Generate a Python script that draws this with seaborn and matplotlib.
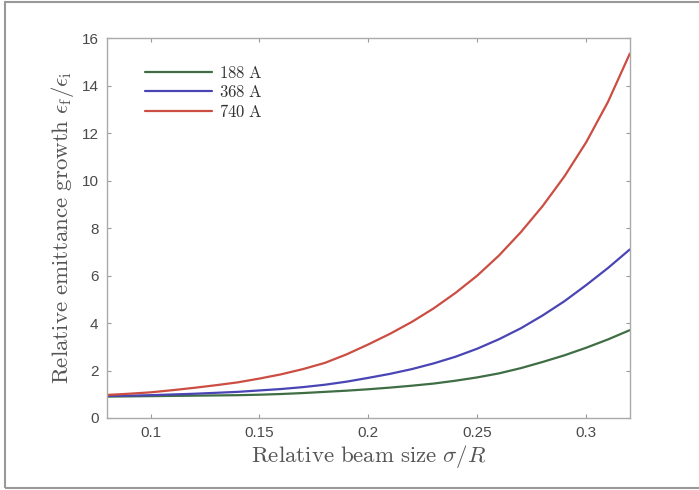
import numpy as np
import pandas as pd
import matplotlib
matplotlib.use('Agg')
import matplotlib.pyplot as plt
import seaborn as sns
from matplotlib.patches import Rectangle

sns.set_theme(style='white')
plt.rcParams['font.family'] = ['Liberation Sans', 'DejaVu Sans']
plt.rcParams['mathtext.fontset'] = 'cm'

# data
beam_size = [0.08, 0.09, 0.10, 0.11, 0.12, 0.13, 0.14, 0.15, 0.16, 0.17, 0.18, 0.19, 0.20,
             0.21, 0.22, 0.23, 0.24, 0.25, 0.26, 0.27, 0.28, 0.29, 0.30, 0.31, 0.32]
growth_188 = [0.90, 0.91, 0.92, 0.93, 0.94, 0.95, 0.96, 0.98, 1.01, 1.05, 1.10, 1.15, 1.21,
              1.28, 1.36, 1.45, 1.57, 1.71, 1.88, 2.10, 2.36, 2.64, 2.96, 3.31, 3.70]
growth_368 = [0.93, 0.94, 0.96, 0.99, 1.02, 1.06, 1.10, 1.16, 1.22, 1.30, 1.40, 1.53, 1.69,
              1.86, 2.06, 2.30, 2.58, 2.92, 3.32, 3.78, 4.32, 4.92, 5.60, 6.32, 7.10]
growth_740 = [0.97, 1.02, 1.08, 1.17, 1.27, 1.38, 1.50, 1.66, 1.84, 2.06, 2.32, 2.68, 3.10,
              3.55, 4.05, 4.62, 5.27, 6.00, 6.85, 7.83, 8.93, 10.18, 11.62, 13.32, 15.35]
currents = ['188 A', '368 A', '740 A']
colors = ['#3f6e45', '#4a45b5', '#cc4d42']

rows = []
for cur, vals in zip(currents, [growth_188, growth_368, growth_740]):
    for x, y in zip(beam_size, vals):
        rows.append({'sigma': x, 'growth': y, 'current': r'$\mathrm{' + cur.replace(' ', r'\ ') + '}$'})
df = pd.DataFrame(rows)

fig = plt.figure(figsize=(6.99, 4.90), dpi=100)
ax = fig.add_axes([0.153, 0.147, 0.748, 0.775])

sns.lineplot(data=df, x='sigma', y='growth', hue='current',
             palette=colors, linewidth=1.6, ax=ax)

ax.set_xlim(0.08, 0.32)
ax.set_ylim(0, 16)
ax.set_xticks([0.1, 0.15, 0.2, 0.25, 0.3])
ax.set_xticklabels(['0.1', '0.15', '0.2', '0.25', '0.3'])
ax.set_yticks(range(0, 17, 2))

ax.tick_params(direction='in', length=3, width=0.8, color='#999999',
               labelcolor='#4a4a4a', labelsize=11, top=True, right=True,
               bottom=True, left=True, pad=6)
for s in ax.spines.values():
    s.set_color('#aaaaaa')
    s.set_linewidth(1.0)

ax.set_xlabel(r'$\mathrm{Relative\ beam\ size}\ \sigma/R$', fontsize=16.5, color='#555555', labelpad=2)
ax.set_ylabel(r'$\mathrm{Relative\ emittance\ growth}\ \epsilon_{\rm f}/\epsilon_{\rm i}$', fontsize=16.5,
              color='#555555', labelpad=4)

leg = ax.legend(loc='upper left', bbox_to_anchor=(0.045, 0.97), frameon=False,
                fontsize=12, handlelength=4.0, handletextpad=0.4, labelspacing=0.2)
for t in leg.get_texts():
    t.set_color('#333333')

# outer frame (right side runs off the image)
fig.add_artist(Rectangle((5 / 699, 2 / 490), 1.0, 1 - 4.5 / 490, transform=fig.transFigure,
                         fill=False, edgecolor='#999999', linewidth=1.5, clip_on=False))

fig.savefig('out.png', dpi=100)
